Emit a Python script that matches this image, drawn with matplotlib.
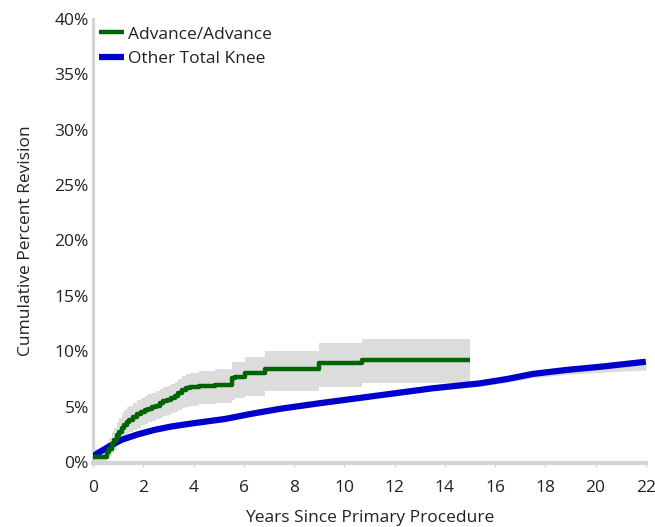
import matplotlib
matplotlib.use("Agg")
import matplotlib.pyplot as plt
import numpy as np

plt.rcParams['font.family'] = ['Open Sans', 'DejaVu Sans']

# Advance/Advance (step function, Kaplan-Meier style)
adv_t = [0, 0.55, 0.65, 0.75, 0.85, 0.95, 1.05, 1.15, 1.25, 1.35, 1.45, 1.6, 1.75, 1.9, 2.05,
         2.2, 2.35, 2.5, 2.65, 2.8, 2.95, 3.1, 3.25, 3.4, 3.55, 3.7, 3.85, 4.2, 4.85, 5.55,
         5.65, 6.05, 6.84, 9.0, 10.7, 15.0]
adv_v = [0.45, 0.9, 1.2, 1.6, 2.0, 2.4, 2.75, 3.05, 3.35, 3.6, 3.8, 4.05, 4.3, 4.5, 4.65,
         4.8, 4.95, 5.1, 5.3, 5.5, 5.6, 5.75, 5.95, 6.2, 6.5, 6.65, 6.75, 6.86, 6.95, 7.55,
         7.7, 8.0, 8.4, 8.9, 9.2, 9.2]
adv_lo = [0.1, 0.3, 0.5, 0.8, 1.1, 1.5, 1.8, 2.05, 2.3, 2.5, 2.7, 2.9, 3.1, 3.3, 3.45,
          3.6, 3.7, 3.85, 4.0, 4.15, 4.25, 4.4, 4.55, 4.7, 4.85, 5.0, 5.1, 5.2, 5.3, 5.6,
          5.75, 6.0, 6.4, 6.8, 7.1, 7.1]
adv_hi = [1.2, 1.8, 2.2, 2.7, 3.1, 3.6, 4.0, 4.4, 4.7, 4.95, 5.1, 5.35, 5.6, 5.8, 5.95,
          6.1, 6.25, 6.4, 6.6, 6.8, 6.9, 7.05, 7.25, 7.5, 7.8, 7.95, 8.05, 8.2, 8.4, 9.05,
          9.05, 9.5, 10.05, 10.7, 11.07, 11.07]

# Other Total Knee
oth_t = [0, 0.08, 0.3, 0.6, 1.13, 1.79, 2.45, 3.1, 3.78, 4.45, 5.24, 6.3, 7.44, 9.0,
         10.5, 12.0, 13.5, 15.4, 16.5, 17.5, 18.8, 20.2, 21.0, 22.0]
oth_v = [0.5, 0.63, 0.95, 1.35, 2.0, 2.5, 2.9, 3.2, 3.43, 3.64, 3.88, 4.35, 4.8, 5.3,
         5.75, 6.2, 6.65, 7.1, 7.5, 7.95, 8.3, 8.6, 8.8, 9.05]
oth_lo = [0.4, 0.53, 0.85, 1.25, 1.9, 2.4, 2.8, 3.1, 3.33, 3.54, 3.78, 4.25, 4.7, 5.18,
          5.6, 6.02, 6.45, 6.85, 7.2, 7.6, 7.9, 8.1, 8.2, 8.3]
oth_hi = [0.6, 0.73, 1.05, 1.45, 2.1, 2.6, 3.0, 3.3, 3.53, 3.74, 3.98, 4.45, 4.9, 5.4,
          5.85, 6.3, 6.75, 7.2, 7.6, 8.05, 8.4, 8.7, 8.9, 9.15]

x_ticks = [0, 2, 4, 6, 8, 10, 12, 14, 16, 18, 20, 22]
y_ticks = [0, 5, 10, 15, 20, 25, 30, 35, 40]
y_ticklabels = [f"{v}%" for v in y_ticks]

fig = plt.figure(figsize=(6.55, 5.27), dpi=100)
ax = fig.add_axes([0.142, 0.1233, 0.844, 0.841])

band = '#dcdcdc'
ax.fill_between(oth_t, oth_lo, oth_hi, color=band, lw=0, zorder=1)
ax.fill_between(adv_t, adv_lo, adv_hi, step='post', color=band, lw=0, zorder=1)
ax.plot(oth_t, oth_v, color='#0000cc', lw=4.5, zorder=3, label='Other Total Knee',
        solid_capstyle='butt')
ax.plot(adv_t, adv_v, color='#006400', lw=3.2, drawstyle='steps-post', zorder=4,
        label='Advance/Advance', solid_capstyle='butt')

ax.set_xlim(0, 22)
ax.set_ylim(0, 40)
ax.set_xticks(x_ticks)
ax.set_yticks(y_ticks)
ax.set_yticklabels(y_ticklabels)

for s in ['top', 'right']:
    ax.spines[s].set_visible(False)
ax.spines['left'].set_color('#d4d4d4')
ax.spines['left'].set_linewidth(2.2)
ax.spines['bottom'].set_color('#d4d4d4')
ax.spines['bottom'].set_linewidth(3)
ax.spines['bottom'].set_position(('outward', 1))

fs = 12.5
ax.tick_params(axis='x', length=3, width=1, color='#d4d4d4', labelsize=fs, pad=9,
               labelcolor='#222222')
ax.tick_params(axis='y', length=0, labelsize=fs, pad=3, labelcolor='#222222')

ax.set_xlabel('Years Since Primary Procedure', fontsize=fs, color='#222222', labelpad=10)
ax.set_ylabel('Cumulative Percent Revision', fontsize=fs, color='#222222', labelpad=15)

h, l = ax.get_legend_handles_labels()
leg = ax.legend([h[1], h[0]], [l[1], l[0]], loc='upper left', bbox_to_anchor=(0.01, 0.983),
                frameon=False, fontsize=fs, handlelength=1.45, handletextpad=0.25,
                borderaxespad=0, borderpad=0, labelspacing=0.5)
for t in leg.get_texts():
    t.set_color('#222222')

fig.savefig('out.png', dpi=100)
